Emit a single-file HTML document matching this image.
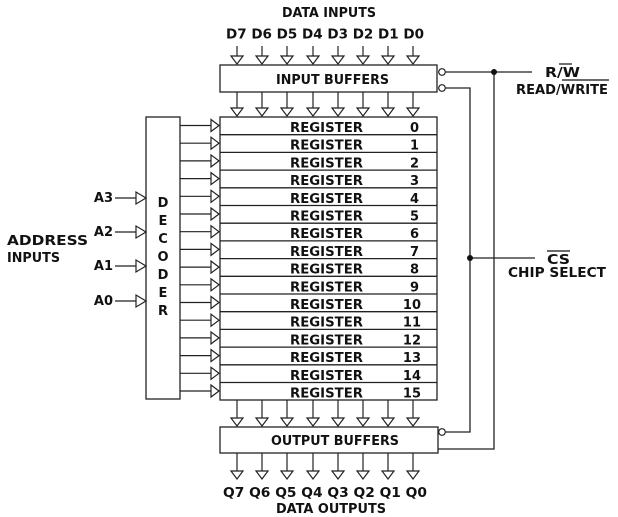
<!DOCTYPE html>
<html><head><meta charset="utf-8"><style>
html,body{margin:0;padding:0;background:#fff;}
svg{display:block;}
text{font-family:"DejaVu Sans","Liberation Sans",sans-serif;font-weight:bold;font-size:13px;fill:#111;}
</style></head><body>
<svg width="618" height="517" viewBox="0 0 618 517" xmlns="http://www.w3.org/2000/svg">
<g stroke="#222" stroke-width="1.3" fill="#fff">
<rect x="220" y="65" width="217" height="27"/>
<rect x="220" y="117" width="217" height="283"/>
<rect x="146" y="117" width="34" height="282"/>
<rect x="220" y="427" width="218" height="26"/>
</g>
<g stroke="#222" stroke-width="1.3" fill="none">
<path d="M220 134.7H437M220 152.4H437M220 170.1H437M220 187.8H437M220 205.5H437M220 223.2H437M220 240.9H437M220 258.6H437M220 276.3H437M220 294H437M220 311.7H437M220 329.4H437M220 347.1H437M220 364.8H437M220 382.5H437"/>
<path d="M446 72H532M446 88H470V432H446M494 72V449H438M470 258H535"/>
<path d="M115 198H136M115 232H136M115 266H136M115 301H136"/>
</g>
<g stroke="#222" stroke-width="1.2" fill="#fff">
<circle cx="442" cy="72" r="3.3"/><circle cx="442" cy="88" r="3.3"/><circle cx="442" cy="432" r="3.3"/>
</g>
<circle cx="494" cy="72" r="3" fill="#111"/>
<circle cx="470" cy="258" r="3" fill="#111"/>
<g stroke="#222" stroke-width="1.2" fill="#fff">
<path d="M237 46V56M231 56H243L237 64Z"/><path d="M262 46V56M256 56H268L262 64Z"/><path d="M287 46V56M281 56H293L287 64Z"/><path d="M313 46V56M307 56H319L313 64Z"/><path d="M338 46V56M332 56H344L338 64Z"/><path d="M363 46V56M357 56H369L363 64Z"/><path d="M388 46V56M382 56H394L388 64Z"/><path d="M413 46V56M407 56H419L413 64Z"/>
<path d="M237 92V108M231 108H243L237 116Z"/><path d="M262 92V108M256 108H268L262 116Z"/><path d="M287 92V108M281 108H293L287 116Z"/><path d="M313 92V108M307 108H319L313 116Z"/><path d="M338 92V108M332 108H344L338 116Z"/><path d="M363 92V108M357 108H369L363 116Z"/><path d="M388 92V108M382 108H394L388 116Z"/><path d="M413 92V108M407 108H419L413 116Z"/>
<path d="M237 400V418M231 418H243L237 426Z"/><path d="M262 400V418M256 418H268L262 426Z"/><path d="M287 400V418M281 418H293L287 426Z"/><path d="M313 400V418M307 418H319L313 426Z"/><path d="M338 400V418M332 418H344L338 426Z"/><path d="M363 400V418M357 418H369L363 426Z"/><path d="M388 400V418M382 418H394L388 426Z"/><path d="M413 400V418M407 418H419L413 426Z"/>
<path d="M237 453V471M231 471H243L237 479Z"/><path d="M262 453V471M256 471H268L262 479Z"/><path d="M287 453V471M281 471H293L287 479Z"/><path d="M313 453V471M307 471H319L313 479Z"/><path d="M338 453V471M332 471H344L338 479Z"/><path d="M363 453V471M357 471H369L363 479Z"/><path d="M388 453V471M382 471H394L388 479Z"/><path d="M413 453V471M407 471H419L413 479Z"/>
<path d="M136 192V204L146 198Z"/><path d="M136 226V238L146 232Z"/><path d="M136 260V272L146 266Z"/><path d="M136 295V307L146 301Z"/>
<path d="M180 125.5H211M211 119.5V131.5L219 125.5Z"/>
<path d="M180 143.2H211M211 137.2V149.2L219 143.2Z"/>
<path d="M180 160.9H211M211 154.9V166.9L219 160.9Z"/>
<path d="M180 178.6H211M211 172.6V184.6L219 178.6Z"/>
<path d="M180 196.3H211M211 190.3V202.3L219 196.3Z"/>
<path d="M180 214H211M211 208V220L219 214Z"/>
<path d="M180 231.7H211M211 225.7V237.7L219 231.7Z"/>
<path d="M180 249.4H211M211 243.4V255.4L219 249.4Z"/>
<path d="M180 267.1H211M211 261.1V273.1L219 267.1Z"/>
<path d="M180 284.8H211M211 278.8V290.8L219 284.8Z"/>
<path d="M180 302.5H211M211 296.5V308.5L219 302.5Z"/>
<path d="M180 320.2H211M211 314.2V326.2L219 320.2Z"/>
<path d="M180 337.9H211M211 331.9V343.9L219 337.9Z"/>
<path d="M180 355.6H211M211 349.6V361.6L219 355.6Z"/>
<path d="M180 373.3H211M211 367.3V379.3L219 373.3Z"/>
<path d="M180 391H211M211 385V397L219 391Z"/>
</g>
<text x="282" y="17" textLength="94" lengthAdjust="spacingAndGlyphs">DATA INPUTS</text>
<text x="226" y="38.5" textLength="198" lengthAdjust="spacingAndGlyphs">D7 D6 D5 D4 D3 D2 D1 D0</text>
<text x="276" y="84" textLength="113" lengthAdjust="spacingAndGlyphs">INPUT BUFFERS</text>
<text x="271" y="445" textLength="128" lengthAdjust="spacingAndGlyphs">OUTPUT BUFFERS</text>
<text x="223" y="497" textLength="204" lengthAdjust="spacingAndGlyphs">Q7 Q6 Q5 Q4 Q3 Q2 Q1 Q0</text>
<text x="276" y="513" textLength="110" lengthAdjust="spacingAndGlyphs">DATA OUTPUTS</text>
<g>
<text x="290" y="132" textLength="73" lengthAdjust="spacingAndGlyphs">REGISTER</text>
<text x="290" y="149.7" textLength="73" lengthAdjust="spacingAndGlyphs">REGISTER</text>
<text x="290" y="167.4" textLength="73" lengthAdjust="spacingAndGlyphs">REGISTER</text>
<text x="290" y="185.1" textLength="73" lengthAdjust="spacingAndGlyphs">REGISTER</text>
<text x="290" y="202.8" textLength="73" lengthAdjust="spacingAndGlyphs">REGISTER</text>
<text x="290" y="220.5" textLength="73" lengthAdjust="spacingAndGlyphs">REGISTER</text>
<text x="290" y="238.2" textLength="73" lengthAdjust="spacingAndGlyphs">REGISTER</text>
<text x="290" y="255.9" textLength="73" lengthAdjust="spacingAndGlyphs">REGISTER</text>
<text x="290" y="273.6" textLength="73" lengthAdjust="spacingAndGlyphs">REGISTER</text>
<text x="290" y="291.3" textLength="73" lengthAdjust="spacingAndGlyphs">REGISTER</text>
<text x="290" y="309" textLength="73" lengthAdjust="spacingAndGlyphs">REGISTER</text>
<text x="290" y="326.7" textLength="73" lengthAdjust="spacingAndGlyphs">REGISTER</text>
<text x="290" y="344.4" textLength="73" lengthAdjust="spacingAndGlyphs">REGISTER</text>
<text x="290" y="362.1" textLength="73" lengthAdjust="spacingAndGlyphs">REGISTER</text>
<text x="290" y="379.8" textLength="73" lengthAdjust="spacingAndGlyphs">REGISTER</text>
<text x="290" y="397.5" textLength="73" lengthAdjust="spacingAndGlyphs">REGISTER</text>
</g>
<g text-anchor="end">
<text x="419" y="132">0</text><text x="419" y="149.7">1</text><text x="419" y="167.4">2</text><text x="419" y="185.1">3</text>
<text x="419" y="202.8">4</text><text x="419" y="220.5">5</text><text x="419" y="238.2">6</text><text x="419" y="255.9">7</text>
<text x="419" y="273.6">8</text><text x="419" y="291.3">9</text><text x="421" y="309">10</text><text x="421" y="326.7">11</text>
<text x="421" y="344.4">12</text><text x="421" y="362.1">13</text><text x="421" y="379.8">14</text><text x="421" y="397.5">15</text>
</g>
<text x="7" y="245" textLength="81" lengthAdjust="spacingAndGlyphs">ADDRESS</text>
<text x="7" y="262" textLength="53" lengthAdjust="spacingAndGlyphs">INPUTS</text>
<g text-anchor="end">
<text x="113" y="202">A3</text>
<text x="113" y="236">A2</text>
<text x="113" y="270">A1</text>
<text x="113" y="305">A0</text>
</g>
<g text-anchor="middle">
<text x="163" y="207">D</text><text x="163" y="225">E</text><text x="163" y="243">C</text><text x="163" y="261">O</text><text x="163" y="279">D</text><text x="163" y="297">E</text><text x="163" y="315">R</text>
</g>
<text x="545" y="77" textLength="35" lengthAdjust="spacingAndGlyphs">R/W</text>
<line x1="559" y1="64" x2="572" y2="64" stroke="#111" stroke-width="1.2"/>
<text x="516" y="94" textLength="92" lengthAdjust="spacingAndGlyphs">READ/WRITE</text>
<line x1="562" y1="80" x2="609" y2="80" stroke="#111" stroke-width="1.2"/>
<text x="547" y="264" textLength="23" lengthAdjust="spacingAndGlyphs">CS</text>
<line x1="547" y1="251" x2="570" y2="251" stroke="#111" stroke-width="1.2"/>
<text x="508" y="277" textLength="98" lengthAdjust="spacingAndGlyphs">CHIP SELECT</text>
</svg>
</body></html>
